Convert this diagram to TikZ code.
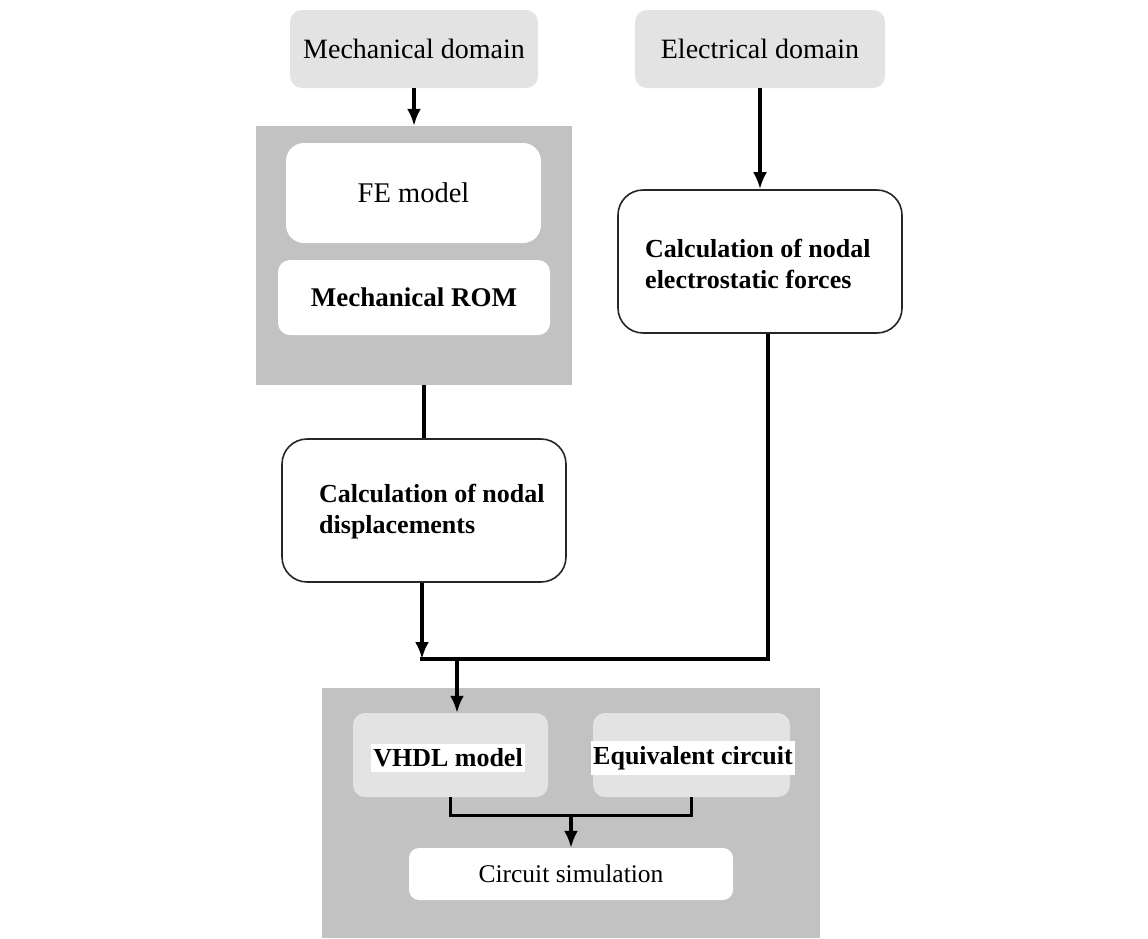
\documentclass[tikz,border=0pt]{standalone}
\usepackage{fontspec}
\setmainfont{Liberation Serif}
\usetikzlibrary{arrows.meta}
\definecolor{lightbox}{HTML}{E3E3E3}
\definecolor{panel}{HTML}{C2C2C2}
\begin{document}
\begin{tikzpicture}[x=1pt,y=-1pt,
  domainbox/.style={rectangle, fill=lightbox, rounded corners=12pt, inner sep=0pt, font=\fontsize{28}{30}\selectfont},
  panelbox/.style={rectangle, fill=panel, inner sep=0pt},
  whitebox/.style={rectangle, fill=white, inner sep=0pt},
  calcbox/.style={rectangle, draw=black!85, line width=1.6pt, fill=white, rounded corners=25pt, inner sep=0pt},
  boldtext/.style={font=\fontsize{26}{31}\selectfont\bfseries, align=left, inner sep=0pt},
  labelbg/.style={fill=white, inner xsep=2pt, inner ysep=5pt, font=\fontsize{26}{28}\selectfont\bfseries},
  arr/.style={line width=3.5pt, -{Latex[length=17pt,width=14pt]}},
  ln/.style={line width=3.5pt},
  thin ln/.style={line width=3pt}
]
\useasboundingbox (0,0) rectangle (1148,938);
\fill[white] (0,0) rectangle (1148,938);

% top domains
\node[domainbox, minimum width=248pt, minimum height=78pt] (mech) at (414,49) {Mechanical domain};
\node[domainbox, minimum width=250pt, minimum height=78pt] (elec) at (760,49) {Electrical domain};

% mechanical panel
\node[panelbox, minimum width=316pt, minimum height=259pt] (panel1) at (414,255.5) {};
\node[whitebox, rounded corners=18pt, minimum width=255pt, minimum height=100pt, font=\fontsize{28.5}{30}\selectfont] (fe) at (413.5,193) {FE model};
\node[whitebox, rounded corners=12pt, minimum width=272pt, minimum height=75pt, font=\fontsize{27}{30}\selectfont\bfseries] (rom) at (414,297.5) {Mechanical ROM};

% calculation boxes
\node[calcbox, minimum width=284pt, minimum height=143pt] (disp) at (424,510.5) {};
\node[boldtext, anchor=west] (disptext) at (319,512) {Calculation of nodal\\displacements};
\node[calcbox, minimum width=284pt, minimum height=143pt] (electro) at (760,261.5) {};
\node[boldtext, anchor=west] (electrotext) at (645,264) {Calculation of nodal\\electrostatic forces};

% bottom panel
\node[panelbox, minimum width=498pt, minimum height=250pt] (panel2) at (571,813) {};
\node[rectangle, fill=lightbox, rounded corners=12pt, minimum width=195pt, minimum height=84pt, inner sep=0pt] (vhdl) at (450.5,755) {};
\node[labelbg] (vhdltext) at (448,758) {VHDL model};
\node[rectangle, fill=lightbox, rounded corners=12pt, minimum width=197pt, minimum height=84pt, inner sep=0pt] (equiv) at (691.5,755) {};
\node[labelbg] (equivtext) at (693,758) {Equivalent circuit};
\node[whitebox, rounded corners=10pt, minimum width=324pt, minimum height=52pt, font=\fontsize{25.5}{28}\selectfont] (circ) at (571,874) {Circuit simulation};

% junction coordinates
\coordinate (j) at (422,659);
\coordinate (jr) at (768,659);
\coordinate (jd) at (457,659);
\coordinate (m) at (571,815);

% connectors
\draw[arr] (mech.south) -- (panel1.north);
\draw[arr] (elec.south) -- (electro.north);
\draw[ln] (panel1.south -| disp.north) -- (disp.north);
\draw[arr] (disp.south -| j) -- (j);
\draw[ln] ([xshift=8pt]electro.south) -- (jr) -- ([xshift=-2pt]j);
\draw[arr] (jd) -- (jd |- vhdl.north);
\draw[thin ln] (vhdl.south) -- (vhdl.south |- m) -| (equiv.south);
\draw[arr] (m) -- (circ.north);
\end{tikzpicture}
\end{document}
